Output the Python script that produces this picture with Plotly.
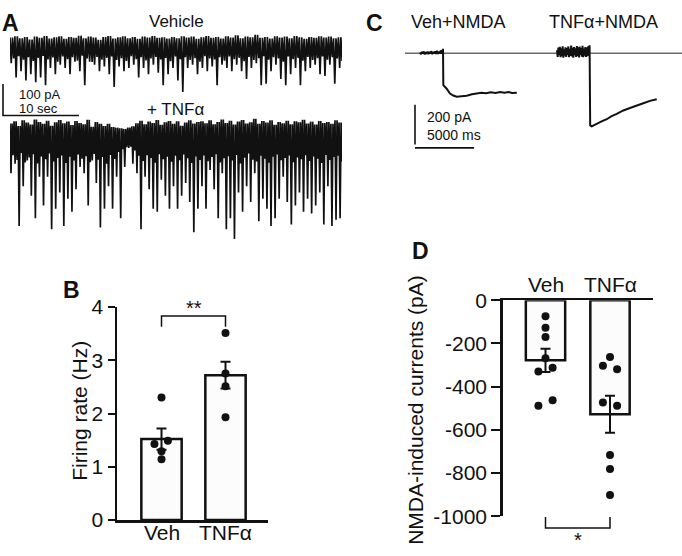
import plotly.graph_objects as go

W, H = 682, 556
FONT = "Liberation Sans, Arial, sans-serif"
INK = "#111111"

# ---------------- Panel A: spontaneous currents (pA) ----------------
veh_spikes = [-77, -122, -102, -132, -112, -137, -122, -147, -92, -112, -82, -92, -112, -72, -102, -147, -72,
              -82, -102, -87, -112, -152, -87, -102, -92, -82, -122, -92, -112, -82, -107, -147, -112,
              -92, -132, -168, -92, -82, -112, -92, -102, -87, -147, -82, -92, -102, -82, -102, -127, -92,
              -77, -147, -142, -102, -82, -127, -147, -112, -92, -147, -102, -92, -82, -112, -117, -82, -142, -92]
veh_floor = [-62, -55, -66, -58, -70, -60, -54, -65, -59, -72, -56, -64, -58, -69, -53, -62, -73, -57, -66, -60,
             -56, -67, -61, -70, -55, -64, -58, -68, -62, -57, -65, -60, -71,
             -56, -64, -58, -67, -61, -72, -55, -62, -65, -58, -69, -56, -64, -60, -71, -57, -67, -61, -55, -66,
             -58, -62, -72, -56, -64, -60, -69, -57, -67, -61, -56, -66, -58, -62, -70]
veh_ceiling = [4, 8, 2, 6, -2, 7, 3, 9, 1, 5, 8, 0, 6, 3, 10, 2, 7, 4, -3, 6, 9, 1, 5, 8, 2, 6, 0, 7, 4, 9, 3, 5, 1,
               6, 2, 8, 4, 7, 0, 5, 9, 3, 6, 1, 8, 4, 11, 2, 7, 5, 13, 3, 6, 1, 8, 4, 7, 2, 9, 5, 0, 6, 3, 8, 4, 7, 2, 5]

tnf_spikes = [-152, -122, -319, -193, -112, -223, -294, -163, -254, -163, -329, -264, -213, -319, -233, -274,
              -203, -132, -152, -254, -112, -183, -324, -264, -193, -264, -163, -294, -132, -72, -122, -152,
              -329, -163, -203, -264, -274, -173, -223, -264, -193, -264, -223, -183, -243, -339, -264,
              -193, -264, -142, -203, -294, -152, -329, -294, -360, -213, -274, -193, -243, -152, -304, -233,
              -264, -319, -294, -233, -163, -243, -314, -254, -213, -274, -233, -279, -254, -213, -314, -193,
              -319, -299, -294]
tnf_floor = [-95, -110, -88, -118, -102, -92, -121, -99, -108, -90, -115, -104, -96, -120, -100, -112, -93, -106,
             -98, -117, -91, -109, -101, -122, -94, -107, -85, -76, -70, -68, -80, -97, -113, -95, -104, -119,
             -92, -108, -100, -116, -97, -111, -93, -105, -120, -99, -110,
             -96, -114, -101, -92, -118, -105, -98, -112, -94, -121, -103, -90, -109, -115, -97, -106, -119,
             -100, -93, -111, -104, -96, -117, -102, -108, -95, -113, -99, -106, -120, -94, -110, -101, -97, -115]
tnf_ceiling = [5, 12, -3, 15, 8, 2, 18, 10, 4, 14, -2, 9, 16, 6, 11, 0, 13, 7, 3, 17, -5, 10, 4, -3, 4, -6, -8,
               -10, -12, -8, -4, 6, 14, 3, 11, 7, 16, 1, 9, 13, 4, 12, -2, 8, 15, 5, 10,
               12, 6, 15, 3, 10, 18, 7, 14, 2, 11, 16, 5, 9, 20, 4, 13, 8, 15, 1, 10, 6, 14, 3, 12, 9, 17, 5,
               11, 2, 13, 7, 10, 4, 15, 8]
A_DURATION_S = 43.7
A_SCALE_PA = 100
A_SCALE_S = 10

# ---------------- Panel C: NMDA-evoked currents ----------------
c_veh_ms = [0, 80, 160, 240, 320, 400, 480, 560, 640, 720, 800, 880, 960, 1040, 1120, 1200, 1280, 1360, 1440,
            1520, 1600, 1680, 1760, 1840, 1900, 1950, 1975, 2260, 2540, 2820, 3110, 3500, 3950, 4400, 4800,
            5200, 5600, 6000, 6400, 6780, 7150, 7500, 7800, 8050, 8200]
c_veh_pA = [4, -5, 7, -2, 9, -6, 5, -3, 8, -4, 6, -1, 10, -5, 7, -2, 9, -4, 12, -3, 8, -2, 14, 3,
            6, 22, -160, -178, -202, -212, -218, -217, -213, -206, -202,
            -198, -201, -196, -199, -194, -198, -195, -199, -196, -198]
c_tnf_noise_pA = [15, -18, 28, -10, 32, -20, 25, -15, 35, -22, 20, -12, 30, -18, 26, -8, 34, -20, 22, -14,
                  38, -16, 27, -22, 31, -10, 24, -19, 36, -13, 29, -21, 33, -9, 26, -17, 37, -20, 23, -12,
                  31, -18, 28, -15, 35, -11, 40]
C_NOISE_DT_MS = 60
c_tnf_decay_ms = [2810, 2940, 3150, 3360, 3780, 4210, 4630, 5060, 5620, 6180, 6750, 7310, 7880, 8450]
c_tnf_decay_pA = [-362, -367, -360, -356, -342, -331, -315, -304, -287, -275, -261, -251, -239, -231]
C_SCALE_PA = 200
C_SCALE_MS = 5000
c_titles = ["Veh+NMDA", "TNFα+NMDA"]

# ---------------- Panel B: firing rate ----------------
b_categories = ["Veh", "TNFα"]
b_means = [1.52, 2.72]
b_sems = [0.20, 0.25]
b_veh_points = [2.30, 1.43, 1.49, 1.29, 1.14]
b_veh_jitter = [0, -0.11, 0.10, 0, 0]
b_tnf_points = [3.51, 2.75, 2.51, 1.93]
b_tnf_jitter = [0, 0, 0, 0]
b_ticks = [0, 1, 2, 3, 4]

# ---------------- Panel D: NMDA-induced currents ----------------
d_categories = ["Veh", "TNFα"]
d_means = [-278, -528]
d_sems = [54, 86]
d_veh_points = [-74, -127, -170, -268, -330, -312, -488, -463]
d_veh_jitter = [0, 0, 0, 0, -0.11, 0.11, -0.11, 0.11]
d_tnf_points = [-263, -303, -320, -473, -488, -717, -781, -902]
d_tnf_jitter = [0, -0.11, 0.11, -0.11, 0.11, 0, 0, 0]
d_ticks = [0, -200, -400, -600, -800, -1000]


# ---------------- helpers (layout only) ----------------
def dx(a, b):
    return [a / W, b / W]


def dy(top, bottom):
    return [1 - bottom / H, 1 - top / H]


def interleave(ceil, spikes, floor):
    out = []
    for c, s, f in zip(ceil, spikes, floor):
        out += [c, s, c, f]
    return out


def hidden_axis(domain, rng, anchor):
    return dict(domain=domain, range=rng, visible=False, showgrid=False, zeroline=False,
                fixedrange=True, anchor=anchor)


fig = go.Figure()

# ---- A traces ----
A_PX_PER_S = 7.6
A_PX_PER_PA = 0.33
a_left, a_right = 10, 342
veh_y = interleave(veh_ceiling, veh_spikes, veh_floor)
tnf_y = interleave(tnf_ceiling, tnf_spikes, tnf_floor)
veh_t = [A_DURATION_S * i / (len(veh_y) - 1) for i in range(len(veh_y))]
tnf_t = [A_DURATION_S * i / (len(tnf_y) - 1) for i in range(len(tnf_y))]
fig.add_trace(go.Scatter(x=veh_t, y=veh_y, mode="lines", line=dict(color=INK, width=1.7),
                         xaxis="x", yaxis="y", hoverinfo="skip"))
fig.add_trace(go.Scatter(x=tnf_t, y=tnf_y, mode="lines", line=dict(color=INK, width=1.7),
                         xaxis="x2", yaxis="y2", hoverinfo="skip"))
# scale bar A
fig.add_trace(go.Scatter(x=[0, 0, A_SCALE_S], y=[A_SCALE_PA, 0, 0], mode="lines",
                         line=dict(color=INK, width=1.6), xaxis="x3", yaxis="y3", hoverinfo="skip"))

# ---- C traces ----
C_PX_PER_MS = 1 / 84.7
C_PX_PER_PA = 0.208
c_left, c_right = 405, 682
C_VEH_START = (420 - c_left) / C_PX_PER_MS
C_TNF_START = (557 - c_left) / C_PX_PER_MS
c_range_ms = (c_right - c_left) / C_PX_PER_MS
fig.add_trace(go.Scatter(x=[0, c_range_ms], y=[0, 0], mode="lines", line=dict(color="#6a6a6a", width=1.5),
                         xaxis="x4", yaxis="y4", hoverinfo="skip"))
fig.add_trace(go.Scatter(x=[C_VEH_START + t for t in c_veh_ms], y=c_veh_pA, mode="lines",
                         line=dict(color=INK, width=2), xaxis="x4", yaxis="y4", hoverinfo="skip"))
tnf_c_t = [i * C_NOISE_DT_MS for i in range(len(c_tnf_noise_pA))] + c_tnf_decay_ms
tnf_c_y = c_tnf_noise_pA + c_tnf_decay_pA
fig.add_trace(go.Scatter(x=[C_TNF_START + t for t in tnf_c_t], y=tnf_c_y, mode="lines",
                         line=dict(color=INK, width=2), xaxis="x4", yaxis="y4", hoverinfo="skip"))
c_bar_x = (415 - c_left) / C_PX_PER_MS
c_bar_y0 = -(138.3 - 43) / C_PX_PER_PA
c_hbar_y = -(141.7 - 43) / C_PX_PER_PA
fig.add_trace(go.Scatter(x=[c_bar_x, c_bar_x], y=[c_bar_y0, c_bar_y0 + C_SCALE_PA], mode="lines",
                         line=dict(color=INK, width=1.6), xaxis="x4", yaxis="y4", hoverinfo="skip"))
fig.add_trace(go.Scatter(x=[c_bar_x, c_bar_x + C_SCALE_MS], y=[c_hbar_y, c_hbar_y], mode="lines",
                         line=dict(color=INK, width=1.6), xaxis="x4", yaxis="y4", hoverinfo="skip"))

# ---- B bars ----
BAR_FILL = "#fcfcfc"
fig.add_trace(go.Bar(x=[0, 1], y=b_means, width=0.63,
                     marker=dict(color=BAR_FILL, line=dict(color=INK, width=2.5)),
                     error_y=dict(type="data", array=b_sems, color=INK, thickness=2, width=5),
                     xaxis="x5", yaxis="y5", hoverinfo="skip"))
fig.add_trace(go.Scatter(x=[0 + j for j in b_veh_jitter] + [1 + j for j in b_tnf_jitter],
                         y=b_veh_points + b_tnf_points, mode="markers",
                         marker=dict(color=INK, size=8), cliponaxis=False,
                         xaxis="x5", yaxis="y5", hoverinfo="skip"))
fig.add_trace(go.Scatter(x=[0, 0, 1, 1], y=[3.63, 3.83, 3.83, 3.63], mode="lines",
                         line=dict(color=INK, width=1.5), xaxis="x5", yaxis="y5", hoverinfo="skip"))

# ---- D bars ----
fig.add_trace(go.Bar(x=[0, 1], y=d_means, width=0.61,
                     marker=dict(color=BAR_FILL, line=dict(color=INK, width=2.5)),
                     error_y=dict(type="data", array=d_sems, color=INK, thickness=2, width=5),
                     xaxis="x6", yaxis="y6", hoverinfo="skip"))
fig.add_trace(go.Scatter(x=[0 + j for j in d_veh_jitter] + [1 + j for j in d_tnf_jitter],
                         y=d_veh_points + d_tnf_points, mode="markers",
                         marker=dict(color=INK, size=8), cliponaxis=False,
                         xaxis="x6", yaxis="y6", hoverinfo="skip"))
fig.add_trace(go.Scatter(x=[0, 0, 1, 1], y=[-1003, -1054, -1054, -1003], mode="lines",
                         line=dict(color=INK, width=1.5), xaxis="x7", yaxis="y7", hoverinfo="skip"))

# ---------------- axes ----------------
b_px0, b_pxstep = 161.5, 64.0
d_px0, d_pxstep = 545.5, 64.5
D_PX_PER_UNIT = (526 - 300.7) / 1000

layout_axes = dict(
    xaxis=hidden_axis(dx(a_left, a_right), [0, (a_right - a_left) / A_PX_PER_S], "y"),
    yaxis=hidden_axis(dy(18, 86), [-(86 - 28) / A_PX_PER_PA, (28 - 18) / A_PX_PER_PA], "x"),
    xaxis2=hidden_axis(dx(a_left, a_right), [0, (a_right - a_left) / A_PX_PER_S], "y2"),
    yaxis2=hidden_axis(dy(106, 242), [-(242 - 118) / A_PX_PER_PA, (118 - 106) / A_PX_PER_PA], "x2"),
    xaxis3=hidden_axis(dx(0, 100), [-3 / A_PX_PER_S, 97 / A_PX_PER_S], "y3"),
    yaxis3=hidden_axis(dy(70, 112), [-(112 - 108) / A_PX_PER_PA, (108 - 70) / A_PX_PER_PA], "x3"),
    xaxis4=hidden_axis(dx(c_left, c_right), [0, c_range_ms], "y4"),
    yaxis4=hidden_axis(dy(25, 150), [-(150 - 43) / C_PX_PER_PA, (43 - 25) / C_PX_PER_PA], "x4"),
    xaxis5=dict(domain=dx(117, 268), range=[(117 - b_px0) / b_pxstep, (268 - b_px0) / b_pxstep],
                anchor="y5", showline=True, linewidth=2.5, linecolor=INK, ticks="", showticklabels=False,
                showgrid=False, zeroline=False, fixedrange=True),
    yaxis5=dict(domain=dy(307.7, 530), range=[0, 4], anchor="x5", showline=True, linewidth=2.5,
                linecolor=INK, ticks="outside", ticklen=7, tickwidth=2, tickcolor=INK,
                tickvals=b_ticks, ticktext=[str(v) for v in b_ticks],
                tickfont=dict(family=FONT, size=21, color=INK),
                showgrid=False, zeroline=False, fixedrange=True),
    xaxis6=dict(domain=dx(502.7, 653), range=[(502.7 - d_px0) / d_pxstep, (653 - d_px0) / d_pxstep],
                anchor="y6", side="top", showline=True, linewidth=2.5, linecolor=INK, ticks="",
                showticklabels=False, showgrid=False, zeroline=False, fixedrange=True),
    yaxis6=dict(domain=dy(300.7, 526), range=[-1000, 0], anchor="x6", showline=True, linewidth=2.5,
                linecolor=INK, ticks="outside", ticklen=9, tickwidth=2, tickcolor=INK,
                tickvals=d_ticks, ticktext=[str(v) for v in d_ticks],
                tickfont=dict(family=FONT, size=21, color=INK),
                showgrid=False, zeroline=False, fixedrange=True),
    xaxis7=hidden_axis(dx(502.7, 653), [(502.7 - d_px0) / d_pxstep, (653 - d_px0) / d_pxstep], "y7"),
    yaxis7=hidden_axis(dy(300.7, 556), [-(556 - 300.7) / D_PX_PER_UNIT, 0], "x7"),
)


def ann(text, x_px, y_px, size, xanchor="center", yanchor="middle", bold=False, textangle=0):
    return dict(text=f"<b>{text}</b>" if bold else text, x=x_px / W, y=1 - y_px / H,
                xref="paper", yref="paper", showarrow=False, xanchor=xanchor, yanchor=yanchor,
                textangle=textangle, font=dict(family=FONT, size=size, color=INK))


def cat_ann(text, xaxis, xval, y_px, size):
    return dict(text=text, x=xval, xref=xaxis, y=1 - y_px / H, yref="paper", showarrow=False,
                xanchor="center", yanchor="middle", font=dict(family=FONT, size=size, color=INK))


annotations = [
    ann("A", 0, 11, 23, xanchor="left", bold=True),
    ann("B", 61, 290, 23, xanchor="left", bold=True),
    ann("C", 364, 11, 23, xanchor="left", bold=True),
    ann("D", 410, 249, 23, xanchor="left", bold=True),
    ann("Vehicle", 176, 10, 17),
    ann("+ TNFα", 175, 102, 17),
    ann(f"{A_SCALE_PA} pA", 17, 86.5, 13, xanchor="left"),
    ann(f"{A_SCALE_S} sec", 17, 101, 13, xanchor="left"),
    ann(c_titles[0], 458, 10, 18),
    ann(c_titles[1], 603, 10, 18),
    ann(f"{C_SCALE_PA} pA", 425, 109.5, 14, xanchor="left"),
    ann(f"{C_SCALE_MS} ms", 425, 128, 14, xanchor="left"),
    ann("Firing rate (Hz)", 80, 416, 21, textangle=-90),
    ann("NMDA-induced currents (pA)", 416, 415, 21, textangle=-90),
    cat_ann(b_categories[0], "x5", 0, 543, 21),
    cat_ann(b_categories[1], "x5", 1, 543, 21),
    cat_ann(d_categories[0], "x6", 0, 284, 21),
    cat_ann(d_categories[1], "x6", 1, 284, 21),
    dict(text="**", x=0.5, xref="x5", y=1 - 295 / H, yref="paper", showarrow=False, xanchor="center",
         yanchor="top", font=dict(family=FONT, size=20, color=INK)),
    dict(text="*", x=0.5, xref="x6", y=0, yref="paper", showarrow=False, xanchor="center",
         yanchor="bottom", height=16, valign="top", yshift=-2, font=dict(family=FONT, size=20, color=INK)),
]

fig.update_layout(
    width=W, height=H, margin=dict(l=0, r=0, t=0, b=0),
    paper_bgcolor="white", plot_bgcolor="rgba(0,0,0,0)",
    showlegend=False, bargap=0, annotations=annotations,
    font=dict(family=FONT, color=INK),
    **layout_axes,
)

fig.write_html("out.html", config={"displayModeBar": False, "staticPlot": True},
               post_script="document.body.style.margin='0';document.body.style.padding='0';"
                           "document.body.style.overflow='hidden';")
